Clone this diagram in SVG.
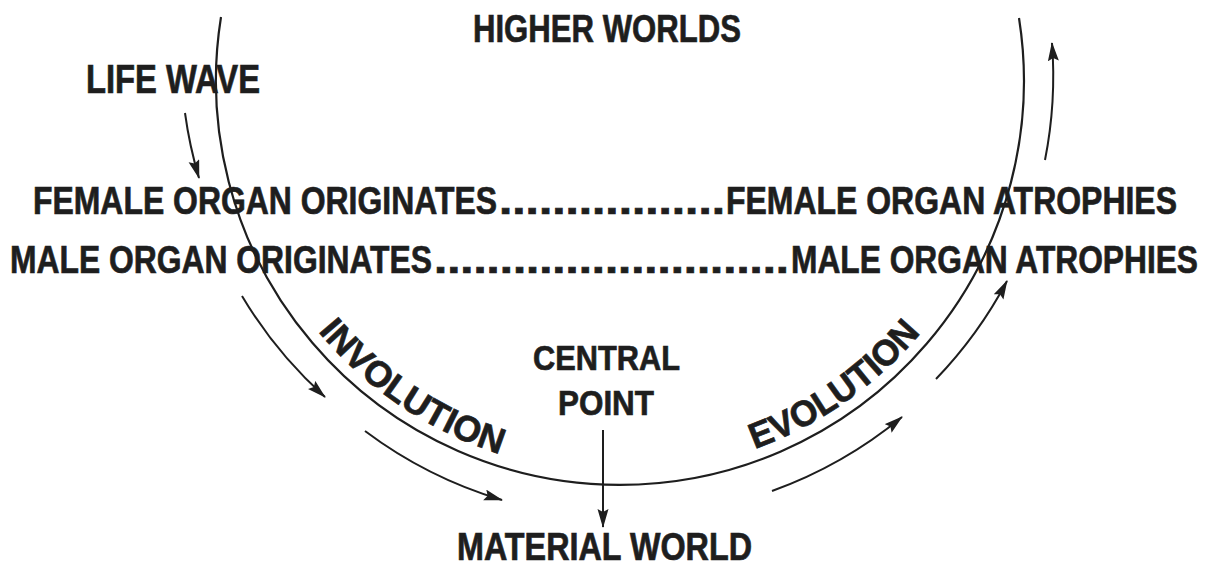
<svg xmlns="http://www.w3.org/2000/svg" width="1207" height="565" viewBox="0 0 1207 565">
  <style>
    .t { font-family: "Liberation Sans", Arial, sans-serif; font-weight: bold; fill: #1e1e1e; stroke: #1e1e1e; stroke-width: 0.7; }
    .ln { fill: none; stroke: #1e1e1e; stroke-width: 2; }
    .arc { fill: none; stroke: #1e1e1e; stroke-width: 2.2; }
  </style>
  <defs>
    <marker id="ah" markerUnits="userSpaceOnUse" markerWidth="20" markerHeight="12" refX="18" refY="5.5" orient="auto">
      <path d="M0,0 L19,5.5 L0,11 L3,5.5 z" fill="#1e1e1e"/>
    </marker>
    <path id="invPath" d="M 250.7 214.4 A 393 393 0 0 0 633.7 472.8"/>
    <path id="evoPath" d="M 613.1 472.9 A 393 393 0 0 0 991.6 208.0"/>
  </defs>

  <rect width="1207" height="565" fill="#ffffff"/>

  <g id="cycle">
    <path class="arc" d="M 221 17 A 404 404 0 1 0 1019 18"/>
  </g>

  <g id="connectors">
    <path class="ln" d="M 185 113 A 434 434 0 0 0 199 178" marker-end="url(#ah)"/>
    <path class="ln" d="M 242 296 A 434 434 0 0 0 325 397" marker-end="url(#ah)"/>
    <path class="ln" d="M 365 431 A 435 435 0 0 0 502 500" marker-end="url(#ah)"/>
    <path class="ln" d="M 772 491 A 438 438 0 0 0 902 417" marker-end="url(#ah)"/>
    <path class="ln" d="M 936 379 A 436 436 0 0 0 1007 281" marker-end="url(#ah)"/>
    <path class="ln" d="M 1045 160 A 433 433 0 0 0 1052 43" marker-end="url(#ah)"/>
    <path class="ln" d="M 603 430 L 603 527" marker-end="url(#ah)"/>
  </g>

  <g id="higher-worlds">
    <text class="t" x="473" y="42" font-size="39" textLength="268" lengthAdjust="spacingAndGlyphs">HIGHER WORLDS</text>
  </g>
  <g id="life-wave">
    <text class="t" x="86" y="93" font-size="40" textLength="174" lengthAdjust="spacingAndGlyphs">LIFE WAVE</text>
  </g>
  <g id="female-row">
    <text class="t" x="33" y="214" font-size="38" textLength="464" lengthAdjust="spacingAndGlyphs">FEMALE ORGAN ORIGINATES</text>
    <text class="t" x="499" y="214" font-size="38" textLength="226" lengthAdjust="spacingAndGlyphs">.................</text>
    <text class="t" x="726" y="214" font-size="38" textLength="451" lengthAdjust="spacingAndGlyphs">FEMALE ORGAN ATROPHIES</text>
  </g>
  <g id="male-row">
    <text class="t" x="10" y="273" font-size="39" textLength="422" lengthAdjust="spacingAndGlyphs">MALE ORGAN ORIGINATES</text>
    <text class="t" x="434" y="273" font-size="38" textLength="355" lengthAdjust="spacingAndGlyphs">...........................</text>
    <text class="t" x="791" y="273" font-size="39" textLength="407" lengthAdjust="spacingAndGlyphs">MALE ORGAN ATROPHIES</text>
  </g>
  <g id="involution">
    <text class="t" font-size="36"><textPath href="#invPath" startOffset="50%" text-anchor="middle" textLength="222" lengthAdjust="spacingAndGlyphs">INVOLUTION</textPath></text>
  </g>
  <g id="evolution">
    <text class="t" font-size="36"><textPath href="#evoPath" startOffset="50%" text-anchor="middle" textLength="205" lengthAdjust="spacingAndGlyphs">EVOLUTION</textPath></text>
  </g>
  <g id="central-point">
    <text class="t" x="533" y="370" font-size="35" textLength="147" lengthAdjust="spacingAndGlyphs">CENTRAL</text>
    <text class="t" x="558" y="415" font-size="35" textLength="96" lengthAdjust="spacingAndGlyphs">POINT</text>
  </g>
  <g id="material-world">
    <text class="t" x="457" y="560" font-size="38" textLength="295" lengthAdjust="spacingAndGlyphs">MATERIAL WORLD</text>
  </g>
</svg>
